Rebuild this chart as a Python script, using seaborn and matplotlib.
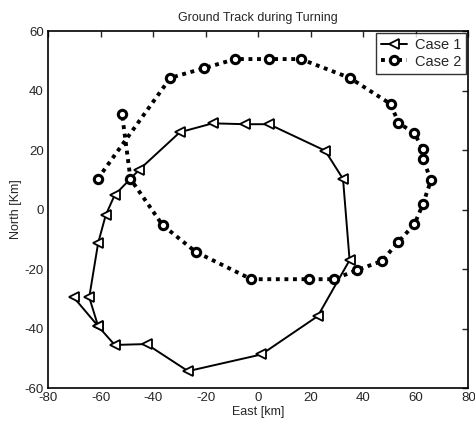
import matplotlib
matplotlib.use("Agg")
import matplotlib.pyplot as plt
import seaborn as sns
import pandas as pd

# Ground track coordinates (km)
case1_east = [-70.2, -60.9, -54.6, -42.5, -26.7, 1.2, 22.7, 34.8, 32.3, 25.5,
              4.1, -5.1, -17.3, -29.8, -45.4, -54.6, -58.0, -60.9, -64.3, -60.9]
case1_north = [-29.5, -39.2, -45.5, -45.2, -54.3, -48.7, -35.8, -17.0, 10.3, 19.8,
               28.7, 28.7, 29.0, 26.0, 13.3, 4.9, -1.8, -11.2, -29.5, -39.2]

case2_east = [-61.1, -33.4, -20.7, -8.7, 4.1, 16.2, 34.8, 50.4, 53.4, 59.5,
              62.7, 62.7, 65.8, 62.7, 59.5, 53.4, 47.1, 37.7, 28.8, 19.3,
              -2.6, -23.8, -36.4, -48.6, -51.8]
case2_north = [10.3, 44.3, 47.5, 50.6, 50.6, 50.6, 44.3, 35.5, 29.2, 25.6,
               20.3, 17.0, 9.9, 1.8, -4.9, -10.8, -17.3, -20.3, -23.4, -23.4,
               -23.4, -14.2, -5.2, 10.3, 32.1]

x_ticks = [-80, -60, -40, -20, 0, 20, 40, 60, 80]
y_ticks = [-60, -40, -20, 0, 20, 40, 60]

sns.set_style("white")
plt.rcParams["font.family"] = ["Liberation Sans", "DejaVu Sans"]
plt.rcParams["axes.unicode_minus"] = False

fig = plt.figure(figsize=(4.75, 4.26), dpi=100)
ax = fig.add_axes([0.101, 0.089, 0.885, 0.838])

df1 = pd.DataFrame({"East": case1_east, "North": case1_north})
df2 = pd.DataFrame({"East": case2_east, "North": case2_north})

sns.lineplot(data=df1, x="East", y="North", sort=False, estimator=None, ax=ax,
             color="black", linewidth=1.4, marker="<", markersize=7,
             markerfacecolor="white", markeredgecolor="black", markeredgewidth=1.3,
             label="Case 1")
sns.lineplot(data=df2, x="East", y="North", sort=False, estimator=None, ax=ax,
             color="black", linewidth=2.8, linestyle=(0, (1, 1.2)), marker="o",
             markersize=6, markerfacecolor="white", markeredgecolor="black",
             markeredgewidth=2.2, label="Case 2")

ax.set_xlim(-80, 80)
ax.set_ylim(-60, 60)
ax.set_xticks(x_ticks)
ax.set_yticks(y_ticks)
ax.tick_params(direction="in", length=4, width=1, labelsize=9.5, top=True, right=True,
               labeltop=False, labelright=False, pad=3)
for s in ax.spines.values():
    s.set_linewidth(1.2)
    s.set_color("black")

ax.set_xlabel("East [km]", fontsize=9, labelpad=1)
ax.set_ylabel("North [Km]", fontsize=9, labelpad=2)
ax.set_title("Ground Track during Turning", fontsize=9, pad=7)

leg = ax.legend(loc="upper right", fontsize=10.5, frameon=True, fancybox=False,
                borderpad=0.35, labelspacing=0.15, handlelength=1.8,
                handletextpad=0.5, borderaxespad=0.15)
leg.get_frame().set_edgecolor("black")
leg.get_frame().set_linewidth(1.0)

fig.savefig("out.png", dpi=100)
